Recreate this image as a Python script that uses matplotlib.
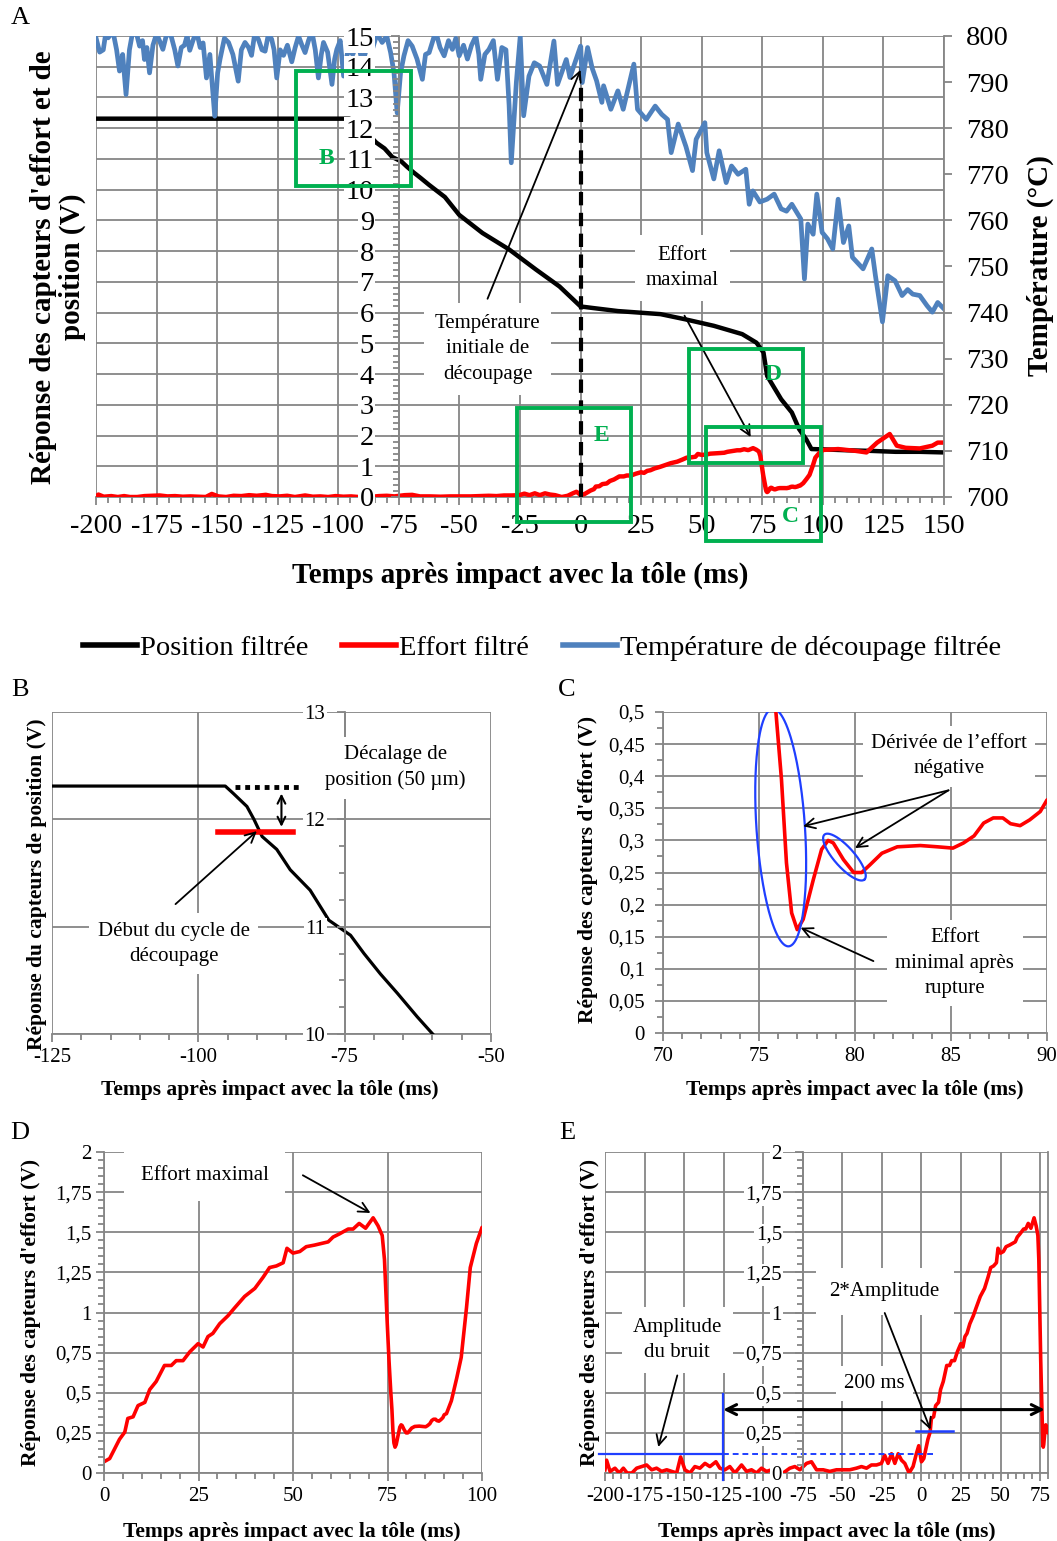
import matplotlib
matplotlib.use("Agg")
import matplotlib.pyplot as plt
import numpy as np
from matplotlib.ticker import MultipleLocator, FuncFormatter
from matplotlib.patches import Rectangle
from matplotlib.lines import Line2D

plt.rcParams['font.family'] = ['Liberation Serif', 'DejaVu Serif']
plt.rcParams['axes.unicode_minus'] = False

# ---------------- data ----------------
# position sensor (V)
t_pos = [-200, -95.4, -94, -91.7, -90.5, -89.1, -86.6, -84.3, -80.9, -77.7, -74, -71.7,
         -68.9, -66, -62.6, -59.8, -56, -50.1, -40.5, -29.4, -18.4, -8.7, 0, 5, 15.4, 33,
         43.3, 55, 66.7, 72.6, 75.5, 77, 82.8, 87.2, 90.2, 93.1, 95.3, 100, 110, 120, 130,
         140, 150]
pos = [12.31, 12.31, 12.24, 12.12, 12.0, 11.84, 11.72, 11.53, 11.34, 11.06, 10.92, 10.75,
       10.56, 10.38, 10.16, 9.99, 9.76, 9.18, 8.59, 8.05, 7.4, 6.85, 6.2, 6.15, 6.05, 5.95,
       5.78, 5.57, 5.3, 5.02, 4.7, 3.94, 3.18, 2.75, 2.21, 1.88, 1.56, 1.55, 1.52, 1.5, 1.47,
       1.47, 1.45]

# force sensor (V)
t_force = [-200, -199, -196.8, -193.7, -191, -188.4, -186, -183, -180, -176.8, -173.7, -170.5,
           -167.4, -164.2, -161, -157.9, -154.7, -152.2, -149.5, -146.3, -143.2, -140, -136.8,
           -133.7, -129.9, -127.4, -124.2, -121.1, -117.9, -113.7, -110.5, -107.4, -104.2,
           -101.1, -97.9, -94.7, -91.6, -87.4, -83.2, -80, -76.8, -72.6, -69.5, -66.3, -62.1,
           -57.9, -53.7, -49.5, -45.3, -41.1, -37.9, -34.7, -31.6, -28.4, -25.3, -23.2, -21.1,
           -18.9, -16.8, -14.7, -12.6, -10.5, -7.8, -5.3, -3.2, -1.7, 0,
           1.5, 2.8, 4.1, 5.5, 6.3, 7.7, 9.0, 10.8, 12.1, 13.8, 16.0, 17.8, 19.1, 20.9, 22.7,
           24.9, 26.2, 27.5, 28.8, 30.6, 32.8, 34.6, 37.2, 39.9, 42.1, 43.8, 45.6, 47.4, 48.4,
           50, 51.8, 53.5, 55.7, 57.5, 59.3, 60.6, 62.3, 64.6, 65.9, 67.5, 69.2, 71.2, 72.5,
           73.6, 74.2, 74.9, 75.4, 75.88, 76.17, 76.43, 76.7, 76.99, 77.3, 77.83, 78.26, 78.6,
           78.87, 79.4, 79.93, 80.35, 80.78, 81.4, 82.2, 83.4, 84.3, 85.1, 85.65, 86.2, 86.7,
           87.2, 87.7, 88.1, 88.6, 89.1, 89.65, 90, 90.6, 91.9, 93.3, 94.5, 95.9, 96.9, 98.5,
           100, 106.3, 113.6, 118, 122.4, 127.6, 130.5, 134.2, 140, 145.2, 147.4, 150]
force = [0.02, 0.08, 0.01, 0.03, 0.0, 0.03, 0.0, 0.0, 0.03, 0.04, 0.05, 0.02,
         0.03, 0.01, 0.02, 0.01, 0.0, 0.10, 0.02, 0.0, 0.04, 0.03, 0.06,
         0.04, 0.07, 0.03, 0.02, 0.04, 0.0, 0.05, 0.01, 0.02, 0.0,
         0.03, 0.01, 0.02, 0.0, 0.0, 0.03, 0.04, 0.02, 0.06, 0.07, 0.02, 0.02,
         0.01, 0.02, 0.02, 0.02, 0.03, 0.04, 0.03, 0.05, 0.05, 0.06, 0.11, 0.06,
         0.12, 0.06, 0.12, 0.08, 0.06, 0.0, 0.04, 0.12, 0.17, 0.07,
         0.09, 0.15, 0.21, 0.255, 0.34, 0.35, 0.42, 0.44, 0.52, 0.57, 0.67, 0.67, 0.70, 0.70, 0.755,
         0.806, 0.785, 0.85, 0.87, 0.93, 0.98, 1.03, 1.10, 1.15, 1.22, 1.28, 1.29, 1.31, 1.40,
         1.37, 1.38, 1.41, 1.42, 1.43, 1.44, 1.47, 1.49, 1.52, 1.52, 1.555, 1.525, 1.59, 1.54,
         1.48, 1.33, 0.95, 0.70, 0.50, 0.395, 0.265, 0.187, 0.161, 0.177, 0.239, 0.286, 0.30,
         0.296, 0.27, 0.25, 0.25, 0.262, 0.28, 0.29, 0.292, 0.29, 0.288, 0.296, 0.307, 0.327,
         0.335, 0.335, 0.326, 0.323, 0.332, 0.345, 0.363, 0.37, 0.45, 0.59, 0.72, 1.03, 1.28, 1.43,
         1.53, 1.56, 1.5, 1.45, 1.77, 2.05, 1.67, 1.6, 1.58, 1.67, 1.77, 1.77]

# cutting temperature (deg C)
t_temp = [-200, -198.5, -197, -196, -195, -193, -191.5, -190.3, -189, -187.6, -186.2, -185,
          -183.5, -182, -180.8, -180, -179, -177.9, -176.5, -175, -173.8, -172.4, -170.8,
          -169, -167.5, -166.2, -164.8, -163.5, -162.4, -161.3, -160, -158.5, -157, -155.8,
          -154.4, -153, -151, -149.8, -148.8, -147, -145.3, -143.5, -141.3, -140, -138.5,
          -137, -135.8, -134.5, -133, -131.5, -130.2, -128.8, -127.5, -126.5, -125.4, -124,
          -122.6, -121, -119.2, -117.8, -116.4, -115, -113.7, -112.3, -110.9, -109.5, -108.2,
          -107, -106.1, -104.4, -102.6, -101.5, -100.6, -99.2, -97.8, -96, -94, -92, -90,
          -88, -86, -84, -81.9, -80, -78.4, -77, -75.7, -74.3, -72.9, -71.2, -69.5, -67.5,
          -65.3, -64, -62.5, -61, -59.8, -58, -56.3, -54.5, -52.9, -51.5, -50.1, -48.3,
          -46.7, -45, -43.2, -42, -41.2, -39.5, -37.8, -36, -34.3, -32.5, -30.8, -29.5,
          -28.6, -26.5, -24.9, -23.5, -21.3, -19.1, -16.9, -13.9, -11, -9.5, -5.9, -4.4, 0,
          0.7, 2.9, 4.8, 6.6, 8.8, 9.5, 12.5, 15.4, 17.6, 22, 23.5, 27.1, 30.8, 33.5, 35.9,
          37.4, 40.3, 43.5, 46.2, 47.7, 51.3, 52.1, 55, 57.2, 60.1, 62.3, 65, 68.2, 69.6,
          71.1, 74, 77, 79.9, 82.8, 85, 87.2, 90.9, 92.4, 93.8, 96, 97.5, 99.7, 101.9, 104.1,
          106.3, 108.5, 110.7, 112.2, 116.6, 120.2, 121.7, 124.6, 126.8, 129.8, 132.7, 135,
          137.1, 140, 143, 145.2, 147.4, 150]
temp_c = [799.6, 796.5, 797, 800.5, 799.6, 801, 797, 792.4, 796, 787.3, 797, 800.5,
          801, 797.8, 799, 794.9, 797.5, 792, 798, 800.5, 799, 797.1, 800.5,
          800, 797, 793.5, 797.5, 798, 800, 796.9, 799, 801, 797.5, 798.5,
          790.9, 796, 782.6, 792, 795, 799.5, 798.6, 796, 790.2, 797, 798.6,
          797.5, 795.8, 800.5, 799.3, 797, 796.7, 800.5, 799.3, 797, 790.9, 797,
          795.8, 798, 794.4, 797.5, 800, 798, 796.4, 799, 801, 797, 790.9,
          796, 798.6, 796.5, 789.5, 795, 797.1, 799, 791.3, 797, 796, 799, 794,
          798, 797, 800.5, 798.6, 800, 796.4, 792, 783.3, 792, 795.7, 799, 797.8, 795,
          790.6, 796, 796.4, 799, 801, 797.5, 795.7, 799, 797.1, 799.5, 795.7, 798,
          795, 798, 800, 796, 790.6, 796, 797.1, 799, 790.6, 797.5, 797, 785,
          772.5, 790, 800, 782.7, 791.3, 794.2, 793.5, 789.5, 798.9, 789.5, 794.9, 791, 797.8,
          789.9, 797.5, 793, 790.3, 785.6, 789.2, 784.1, 788.1, 784.1, 793.9, 784.1, 781.9,
          784.8, 783, 781.9, 774.7, 780.9, 776, 770.8, 777.6, 781.2, 774.7, 769, 775.1, 768.2,
          771.8, 770, 771.1, 763.5, 766.4, 764, 764.6, 765.7, 762.5, 762, 763.5, 760.3, 747.3,
          759.2, 757, 765.7, 757.4, 756, 753.8, 764.6, 755.2, 758.8, 752, 749.5, 753.8, 748,
          738, 748, 746.9, 743.7, 745, 744, 743.7, 741.5, 740.1, 742.2, 740.8]

legend_labels = ["Position filtrée", "Effort filtré", "Température de découpage filtrée"]

# ---------------- style ----------------
W, H = 1057, 1541
GRID = "#868686"
GREEN = "#00B050"
BLUE_T = "#4F81BD"
RED = "#FF0000"
BLUE = "#1F3FFF"
XLAB = "Temps après impact avec la tôle (ms)"
LAB_A = 21
LAB_S = 15.5
NOTE_S = 15

fig = plt.figure(figsize=(W / 100, H / 100), dpi=100)


def px_axes(x0, y0, x1, y1):
    return fig.add_axes([x0 / W, 1 - y1 / H, (x1 - x0) / W, (y1 - y0) / H])


def comma(v, pos):
    return f"{v:.2f}".rstrip('0').rstrip('.').replace('.', ',')


def panel(rect, xlim, ylim, xmaj, xmin, ymaj, ymin, ycross, fs, ypad, xpad, yfmt=None):
    ax = px_axes(*rect)
    ax.set_xlim(*xlim)
    ax.set_ylim(*ylim)
    ax.xaxis.set_major_locator(MultipleLocator(xmaj))
    ax.xaxis.set_minor_locator(MultipleLocator(xmin))
    ax.yaxis.set_major_locator(MultipleLocator(ymaj))
    ax.yaxis.set_minor_locator(MultipleLocator(ymin))
    ax.grid(True, which='major', color=GRID, lw=1.3)
    ax.set_axisbelow(True)
    for s in ('top', 'right', 'left'):
        ax.spines[s].set_visible(False)
    ax.spines['bottom'].set_color(GRID)
    ax.spines['bottom'].set_linewidth(1.3)
    ax.tick_params(axis='x', which='both', direction='out', color=GRID, width=1.3,
                   labelsize=fs, pad=xpad)
    ax.tick_params(axis='x', which='major', length=6)
    ax.tick_params(axis='x', which='minor', length=4)
    ax.tick_params(axis='y', which='both', length=0, labelleft=False)

    # overlay that carries the vertical axis (Excel puts the labels on white)
    axo = fig.add_axes(ax.get_position(), sharex=ax, sharey=ax)
    axo.set_zorder(5)
    axo.patch.set_visible(False)
    axo.xaxis.set_visible(False)
    for s in ('top', 'right', 'bottom'):
        axo.spines[s].set_visible(False)
    axo.spines['left'].set_position(('data', ycross))
    axo.spines['left'].set_color(GRID)
    axo.spines['left'].set_linewidth(1.3)
    axo.tick_params(axis='y', which='both', direction='out', color=GRID, width=1.3,
                    labelsize=fs, pad=ypad)
    axo.tick_params(axis='y', which='major', length=6)
    axo.tick_params(axis='y', which='minor', length=4)
    if yfmt is not None:
        axo.yaxis.set_major_formatter(FuncFormatter(yfmt))
    return ax, axo


def white_labels(axo):
    for tk in axo.yaxis.get_major_ticks():
        tk.label1.set_bbox(dict(facecolor='white', edgecolor='none', pad=1.0))


def note(ax, x, y, s, fs, pad=3):
    ax.text(x, y, s, ha='center', va='center', fontsize=fs, multialignment='center',
            linespacing=1.45, zorder=6,
            bbox=dict(facecolor='white', edgecolor='none', pad=pad))


def arrow(ax, tail, head, lw=1.3, style='->', ms=18):
    ax.annotate('', xy=head, xytext=tail,
                arrowprops=dict(arrowstyle=style, color='black', lw=lw,
                                mutation_scale=ms, shrinkA=0, shrinkB=0), zorder=7)


def ellipse(ax, c, u, v):
    th = np.linspace(0, 2 * np.pi, 200)
    ax.plot(c[0] + u[0] * np.cos(th) + v[0] * np.sin(th),
            c[1] + u[1] * np.cos(th) + v[1] * np.sin(th), color=BLUE, lw=1.6, zorder=6)


def vlabel(x, y, s, fs):
    fig.text(x / W, 1 - y / H, s, rotation=90, ha='center', va='center', fontsize=fs,
             fontweight='bold', multialignment='center', linespacing=1.1)


def hlabel(x, y, s, fs):
    fig.text(x / W, 1 - y / H, s, ha='center', va='center', fontsize=fs, fontweight='bold')


# ---------------- panel A ----------------
axA, axAo = panel((96, 36, 944, 497), (-200, 150), (0, 15), 25, 5, 1, 0.2, -75,
                  20.5, 12, 6)
axA.plot(t_pos, pos, color='black', lw=3.2, solid_joinstyle='round', zorder=3)
axA.plot(t_force, force, color=RED, lw=3.2, solid_joinstyle='round', zorder=3)
axA.plot([0, 0], [0, 14.8], color='black', lw=3, linestyle=(0, (3.2, 1.8)), zorder=3)

axT = axA.twinx()
axT.plot(t_temp, temp_c, color=BLUE_T, lw=3.4, solid_joinstyle='round')
axT.set_ylim(700, 800)
axT.yaxis.set_major_locator(MultipleLocator(10))
for s in ('top', 'left', 'bottom'):
    axT.spines[s].set_visible(False)
axT.spines['right'].set_color(GRID)
axT.spines['right'].set_linewidth(1.3)
axT.tick_params(axis='y', direction='out', color=GRID, width=1.3, length=6,
                labelsize=20.5, pad=10)

for (x0, x1, y0, y1, lab, lx, ly) in [(-117.4, -69.8, 10.12, 13.86, 'B', -105, 11.0),
                                      (-26.4, 20.7, -0.81, 2.9, 'E', 8.7, 2.0),
                                      (44.6, 91.7, 1.11, 4.82, 'D', 79.3, 3.97),
                                      (51.7, 99.2, -1.43, 2.28, 'C', 86.4, -0.62)]:
    axAo.add_patch(Rectangle((x0, y0), x1 - x0, y1 - y0, fill=False, ec=GREEN, lw=2.8,
                             clip_on=False, zorder=8))
    axAo.text(lx, ly, lab, color=GREEN, fontsize=17, fontweight='bold', ha='center',
              va='center', zorder=8)

note(axAo, -38.4, 4.82, "Température\ninitiale de\ndécoupage", NOTE_S, pad=8)
arrow(axAo, (-38.4, 6.45), (0, 13.9))
note(axAo, 42.1, 7.45, "Effort\nmaximal", NOTE_S, pad=8)
arrow(axAo, (42.9, 5.9), (70.2, 1.95))
white_labels(axAo)

vlabel(58, 267, "Réponse des capteurs d'effort et de\nposition (V)", LAB_A)
hlabel(520, 575, XLAB, LAB_A)
vlabel(1040, 266, "Température (°C)", LAB_A)

handles = [Line2D([], [], color=c, lw=4) for c in ('black', RED, BLUE_T)]
fig.legend(handles, legend_labels, loc='center', bbox_to_anchor=(542 / W, 1 - 648 / H),
           ncol=3, frameon=False, fontsize=20.5, handlelength=1.9, handletextpad=0.1,
           columnspacing=1.2)

# ---------------- panel B ----------------
axB, axBo = panel((52, 712, 491, 1034), (-125, -50), (10, 13), 25, 5, 1, 0.25, -75,
                  15, 8, 4)
axB.plot(t_pos, pos, color='black', lw=2.3, solid_joinstyle='round', zorder=3)
axBo.plot([-93.7, -82.3], [12.3, 12.3], color='black', lw=3.5, linestyle=(0, (1, 1)))
axBo.plot([-96.7, -83.8], [11.886, 11.886], color=RED, lw=4)
arrow(axBo, (-85.8, 11.93), (-85.8, 12.24), lw=1.5, style='<->', ms=14)
note(axBo, -104.2, 10.84, "Début du cycle de\ndécoupage", NOTE_S, pad=6)
arrow(axBo, (-103.9, 11.21), (-90, 11.89))
note(axBo, -66.3, 12.48, "Décalage de\nposition (50 µm)", NOTE_S, pad=6)
white_labels(axBo)
vlabel(37, 884, "Réponse du capteurs de position (V)", LAB_S)
hlabel(270, 1090, XLAB, LAB_S)

# ---------------- panel C ----------------
axC, axCo = panel((663, 712, 1047, 1033), (70, 90), (0, 0.5), 5, 1, 0.05, 0.025, 70,
                  15, 7, 4, comma)
axC.plot(t_force, force, color=RED, lw=2.6, solid_joinstyle='round', zorder=3)
ellipse(axCo, (76.13, 0.32), (-0.38, 0.185), (1.27, -0.0025))
ellipse(axCo, (79.45, 0.274), (1.04, -0.035), (0.39, 0.0103))
note(axCo, 84.9, 0.431, "Dérivée de l’effort\nnégative", NOTE_S, pad=6)
arrow(axCo, (84.87, 0.378), (77.3, 0.322))
arrow(axCo, (84.87, 0.378), (80.0, 0.288))
note(axCo, 85.2, 0.109, "Effort\nminimal après\nrupture", NOTE_S, pad=6)
arrow(axCo, (80.96, 0.112), (77.17, 0.164))
white_labels(axCo)
vlabel(588, 869, "Réponse des capteurs d'effort (V)", LAB_S)
hlabel(855, 1090, XLAB, LAB_S)

# ---------------- panel D ----------------
axD, axDo = panel((104, 1152, 482, 1473), (0, 100), (0, 2), 25, 5, 0.25, 0.05, 0,
                  15, 3, 4, comma)
axD.plot(t_force, force, color=RED, lw=2.6, solid_joinstyle='round', zorder=3)
note(axDo, 26.6, 1.855, "Effort maximal", NOTE_S, pad=12)
arrow(axDo, (52.6, 1.855), (70.5, 1.62))
white_labels(axDo)
vlabel(31, 1312, "Réponse des capteurs d'effort (V)", LAB_S)
hlabel(292, 1532, XLAB, LAB_S)

# ---------------- panel E ----------------
axE, axEo = panel((605, 1152, 1048, 1473), (-200, 80), (0, 2), 25, 5, 0.25, 0.05, -75,
                  15, 9, 4, comma)
axE.spines['right'].set_visible(True)
axE.spines['right'].set_color(GRID)
axE.spines['right'].set_linewidth(1.3)
axE.plot(t_force, force, color=RED, lw=2.6, solid_joinstyle='round', zorder=3)
axEo.plot([-204, -125.3], [0.116, 0.116], color=BLUE, lw=1.6, clip_on=False)
axEo.plot([-125.3, 9.5], [0.116, 0.116], color=BLUE, lw=1.4, linestyle=(0, (3, 2)))
axEo.plot([-125.3, -125.3], [-0.046, 0.494], color=BLUE, lw=1.6, clip_on=False)
axEo.plot([-3.2, 20], [0.26, 0.26], color=BLUE, lw=1.8)
arrow(axEo, (-125.3, 0.395), (77.9, 0.395), lw=2.2, style='<->', ms=18)
note(axEo, -29.5, 0.557, "200 ms", NOTE_S, pad=6)
note(axEo, -23.2, 1.128, "2*Amplitude", NOTE_S, pad=10)
arrow(axEo, (-23.2, 0.997), (5.7, 0.27))
note(axEo, -154.3, 0.827, "Amplitude\ndu bruit", NOTE_S, pad=8)
arrow(axEo, (-154.3, 0.608), (-166.3, 0.162))
white_labels(axEo)
vlabel(590, 1312, "Réponse des capteurs d'effort (V)", LAB_S)
hlabel(827, 1532, XLAB, LAB_S)

# panel letters
for lab, x, y in [('A', 20, 18), ('B', 20, 690), ('C', 567, 690), ('D', 20, 1133),
                  ('E', 567, 1133)]:
    fig.text(x / W, 1 - y / H, lab, ha='center', va='center', fontsize=19)

fig.savefig("out.png", dpi=100)
